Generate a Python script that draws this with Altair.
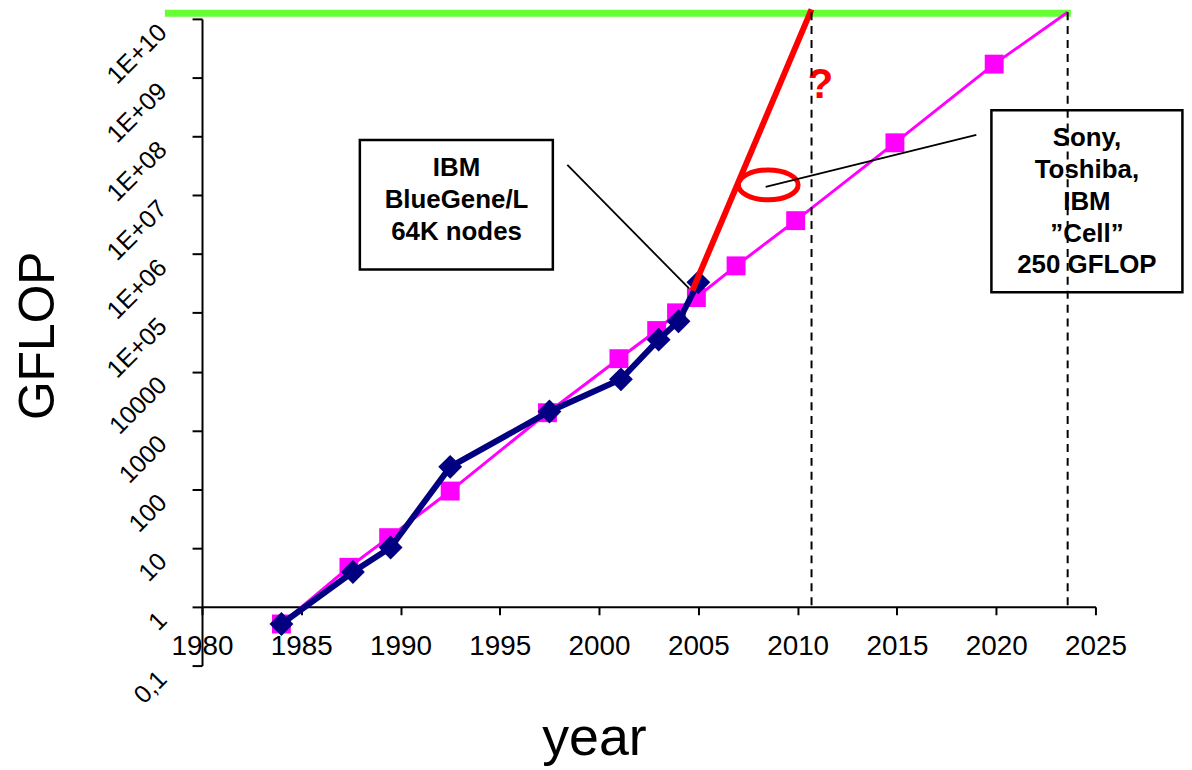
import altair as alt
import pandas as pd

FONT = "Liberation Sans, Arial, sans-serif"

# ---------------- data ----------------
trend_year = [1984.0, 1987.4, 1989.4, 1992.5, 1997.4, 2001.0, 2002.9, 2003.9,
              2004.9, 2006.9, 2009.9, 2014.9, 2019.9, 2023.6]
trend_gflop = [0.51, 4.7, 15, 93, 2000, 16600, 50000, 100000,
               182000, 630000, 3.7e6, 7.8e7, 1.7e9, 1.3e10]
trend_marker = [True] * 13 + [False]

top_year = [1984.0, 1987.6, 1989.5, 1992.5, 1997.5, 2001.1, 2003.0, 2004.0, 2005.0]
top_gflop = [0.51, 3.9, 10.2, 240, 2100, 7400, 35000, 72000, 330000]

red_year = [2004.7, 2010.7]
red_gflop = [2.4e5, 1.45e10]

x_ticks = [1980, 1985, 1990, 1995, 2000, 2005, 2010, 2015, 2020, 2025]
y_ticks = [0.1, 1, 10, 100, 1000, 10000, 1e5, 1e6, 1e7, 1e8, 1e9, 1e10]
y_labels = ["0,1", "1", "10", "100", "1000", "10000",
            "1E+05", "1E+06", "1E+07", "1E+08", "1E+09", "1E+10"]

box_x0 = [1987.95, 2019.76]
box_x1 = [1997.67, 2029.38]
box_y0 = [8.7e7, 2.8e8]
box_y1 = [5.46e5, 2.23e5]
box_text_x = [1992.82, 2024.57]
box_text_y = [2.92e7, 9.4e7]
box_texts = ["IBM\nBlueGene/L\n64K nodes",
             "Sony,\nToshiba,\nIBM\n\u201dCell\u201d\n250 GFLOP"]

leader_x0 = [1998.4, 2019.0]
leader_y0 = [3.28e7, 1.06e8]
leader_x1 = [2004.53, 2008.39]
leader_y1 = [2.6e5, 1.39e7]

dash_x = [2010.7, 2023.6]
dash_top = [1.3e10, 1.3e10]
dash_bottom = [1, 1]

green_x0 = [1978.13]
green_x1 = [2023.76]
green_y = [1.245e10]

ellipse_x = [2008.52]
ellipse_y = [1.5e7]

q_x = [2011.15]
q_y = [7.4e8]
q_text = ["?"]

# ---------------- chart ----------------
W, H = 898, 650

x_sc = alt.Scale(domain=[1980, 2025], nice=False, zero=False)
y_sc = alt.Scale(type="log", domain=[0.1, 1e10], nice=False)

y_label_expr = "''"
for v, s in reversed(list(zip(y_ticks, y_labels))):
    y_label_expr = "(abs(datum.value - %r) < %r ? '%s' : %s)" % (v, v * 0.01, s, y_label_expr)

x_axis = alt.Axis(
    values=x_ticks, format="d", grid=False,
    labelFont=FONT, labelFontSize=28, labelColor="black", labelPadding=18,
    labelFlush=False, labelOverlap=False,
    tickSize=8, tickWidth=2, tickColor="black",
    domainColor="black", domainWidth=2,
    offset=-H / 11,
    title="year", titleFont=FONT, titleFontSize=54, titleFontWeight="normal",
    titleColor="black", titleX=394, titleY=148, titleAlign="center",
    titleBaseline="alphabetic",
)
y_axis = alt.Axis(
    values=y_ticks, labelExpr=y_label_expr, grid=False,
    labelFont=FONT, labelFontSize=25, labelColor="black",
    labelAngle=315, labelAlign="right", labelBaseline="middle",
    labelPadding=30, labelOffset=9, labelOverlap=False, labelFlush=False,
    tickSize=10, tickWidth=2, tickColor="black",
    domainColor="black", domainWidth=2,
    title="GFLOP", titleFont=FONT, titleFontSize=50, titleFontWeight="normal",
    titleColor="black", titleAngle=270, titleX=-164, titleY=318,
    titleAlign="center", titleBaseline="middle",
)


def X(f):
    return alt.X(f, type="quantitative", scale=x_sc, axis=x_axis)


def Y(f):
    return alt.Y(f, type="quantitative", scale=y_sc, axis=y_axis)


trend_df = pd.DataFrame({"year": trend_year, "gflop": trend_gflop, "marker": trend_marker})
top_df = pd.DataFrame({"year": top_year, "gflop": top_gflop})
red_df = pd.DataFrame({"year": red_year, "gflop": red_gflop})
box_df = pd.DataFrame({"x0": box_x0, "x1": box_x1, "y0": box_y0, "y1": box_y1})
btxt_df = pd.DataFrame({"x": box_text_x, "y": box_text_y, "t": box_texts})
lead_df = pd.DataFrame({"x0": leader_x0, "y0": leader_y0, "x1": leader_x1, "y1": leader_y1})
dash_df = pd.DataFrame({"x": dash_x, "y0": dash_top, "y1": dash_bottom})
green_df = pd.DataFrame({"x0": green_x0, "x1": green_x1, "y": green_y})
ell_df = pd.DataFrame({"x": ellipse_x, "y": ellipse_y})
q_df = pd.DataFrame({"x": q_x, "y": q_y, "t": q_text})

green = alt.Chart(green_df).mark_rule(color="#66FF33", strokeWidth=7).encode(
    x=X("x0"), x2=alt.X2("x1"), y=Y("y"))

boxes = alt.Chart(box_df).mark_rect(fill="white", stroke="black", strokeWidth=2.5).encode(
    x=X("x0"), x2=alt.X2("x1"), y=Y("y0"), y2=alt.Y2("y1"))

trend_line = alt.Chart(trend_df).mark_line(color="#FF00FF", strokeWidth=3).encode(
    x=X("year"), y=Y("gflop"))

trend_pts = alt.Chart(trend_df).transform_filter("datum.marker").mark_point(
    shape="square", size=361, filled=True, color="#FF00FF", opacity=1).encode(
    x=X("year"), y=Y("gflop"))

top_line = alt.Chart(top_df).mark_line(color="#000080", strokeWidth=6).encode(
    x=X("year"), y=Y("gflop"))
top_pts = alt.Chart(top_df).mark_point(
    shape="diamond", size=576, filled=True, color="#000080", opacity=1).encode(
    x=X("year"), y=Y("gflop"))

red_line = alt.Chart(red_df).mark_line(color="#FF0000", strokeWidth=6).encode(
    x=X("year"), y=Y("gflop"))

ellipse = alt.Chart(ell_df).mark_point(
    shape="M-1,0A1,0.5,0,1,1,1,0A1,0.5,0,1,1,-1,0Z", size=3600, filled=False,
    stroke="#FF0000", strokeWidth=5, opacity=1).encode(x=X("x"), y=Y("y"))

leaders = alt.Chart(lead_df).mark_rule(color="black", strokeWidth=1.8).encode(
    x=X("x0"), x2=alt.X2("x1"), y=Y("y0"), y2=alt.Y2("y1"))

box_text = alt.Chart(btxt_df).mark_text(
    font=FONT, fontSize=26, fontWeight="bold", color="black", lineBreak="\n",
    lineHeight=32, align="center", baseline="middle").encode(
    x=X("x"), y=Y("y"), text="t:N")

qmark = alt.Chart(q_df).mark_text(
    font=FONT, fontSize=42, fontWeight="bold", color="#FF0000",
    align="center", baseline="middle").encode(x=X("x"), y=Y("y"), text="t:N")

dashes = alt.Chart(dash_df).mark_rule(color="black", strokeWidth=2, strokeDash=[8, 6]).encode(
    x=X("x"), y=Y("y0"), y2=alt.Y2("y1"))

chart = alt.layer(
    green, boxes, trend_line, trend_pts, top_line, top_pts, red_line, ellipse,
    leaders, box_text, qmark, dashes,
).properties(
    width=W, height=H,
    autosize=alt.AutoSizeParams(type="none"),
    padding={"left": 195, "top": 9, "right": 89, "bottom": 101},
    background="white",
).configure_view(strokeWidth=0)

chart.save("out.html", embed_options={"renderer": "svg", "actions": False})
